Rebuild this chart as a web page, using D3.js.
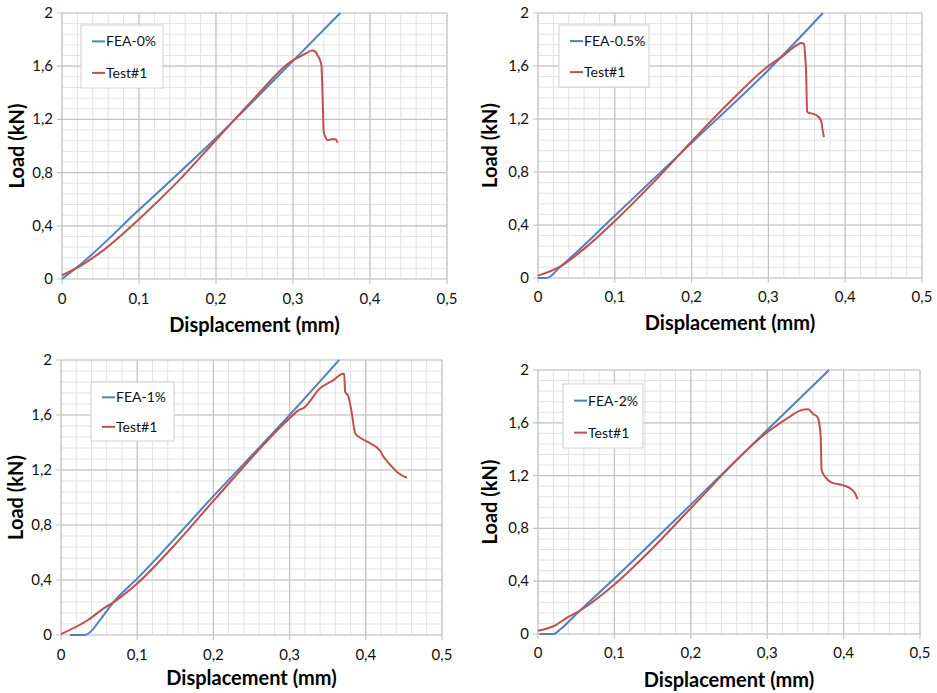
<!DOCTYPE html>
<html>
<head>
<script src="https://d3js.org/d3.v7.min.js"></script>
<style>
  body { margin: 0; background: #fff; }
  svg { display: block; font-family: Lato, "Open Sans", sans-serif; }
  .tick-label { font-size: 15px; fill: #111; }
  .axis-title { font-size: 20px; font-weight: bold; fill: #000; }
  .legend-text { font-size: 14px; fill: #111; }
</style>
</head>
<body>
<script>
// tick values
const xTicks = [0, 0.1, 0.2, 0.3, 0.4, 0.5]
const yTicks = [0, 0.4, 0.8, 1.2, 1.6, 2]

// series, [displacement mm, load kN]
const fea0 = [[0,0],[0.02,0.09],[0.1,0.52],[0.2,1.06],[0.3,1.64],[0.3614,2.0]]
const test0 = [[0,0.028],[0.02,0.085],[0.05,0.2],[0.1,0.45],[0.15,0.73],[0.2,1.045],[0.25,1.36],[0.3,1.645],[0.31,1.675],[0.318,1.70],[0.3247,1.718],[0.329,1.71],[0.332,1.68],[0.3355,1.64],[0.337,1.60],[0.338,1.45],[0.339,1.25],[0.3398,1.11],[0.342,1.07],[0.345,1.045],[0.35,1.05],[0.355,1.05],[0.358,1.025]]

const fea05 = [[0,0],[0.011,0],[0.03,0.09],[0.1,0.47],[0.2,1.02],[0.3,1.57],[0.371,2.0]]
const test05 = [[0,0.018],[0.03,0.09],[0.06,0.22],[0.1,0.43],[0.15,0.72],[0.2,1.03],[0.25,1.33],[0.3,1.6],[0.32,1.68],[0.335,1.75],[0.343,1.774],[0.3465,1.765],[0.3475,1.70],[0.349,1.57],[0.3505,1.255],[0.353,1.245],[0.358,1.24],[0.3655,1.215],[0.369,1.18],[0.3705,1.12],[0.3724,1.063]]

const fea1 = [[0.012,0],[0.031,0],[0.04,0.03],[0.05,0.1],[0.0706,0.25],[0.1,0.41],[0.2,1.01],[0.3,1.6],[0.365,2.0]]
const test1 = [[0,0.007],[0.0355,0.109],[0.0574,0.199],[0.0706,0.245],[0.1,0.375],[0.147,0.642],[0.2,0.975],[0.3,1.576],[0.312,1.636],[0.318,1.65],[0.34,1.794],[0.358,1.855],[0.3685,1.898],[0.3716,1.9],[0.3729,1.77],[0.3773,1.733],[0.3817,1.612],[0.386,1.467],[0.3926,1.435],[0.4058,1.394],[0.419,1.338],[0.4233,1.297],[0.4277,1.265],[0.4343,1.224],[0.443,1.176],[0.454,1.144]]

const fea2 = [[0.002,0],[0.0197,0],[0.03,0.04],[0.0546,0.176],[0.1,0.42],[0.2,0.98],[0.3,1.546],[0.381,2.0]]
const test2 = [[0,0.025],[0.024,0.07],[0.037,0.12],[0.0546,0.176],[0.1,0.375],[0.15,0.65],[0.2,0.953],[0.3,1.528],[0.3297,1.647],[0.3428,1.692],[0.3537,1.702],[0.3602,1.667],[0.3655,1.647],[0.368,1.60],[0.370,1.495],[0.3712,1.243],[0.3756,1.193],[0.3843,1.147],[0.3974,1.13],[0.4083,1.105],[0.4149,1.067],[0.4184,1.022]]

const feaNames = ['FEA-0%', 'FEA-0.5%', 'FEA-1%', 'FEA-2%']
const testName = 'Test#1'

const blue = '#4f81bd'
const red = '#c0504d'

const w = 937
const h = 693

const svg = d3.select('body').append('svg')
    .attr('width', w)
    .attr('height', h)

// plot boxes, legend boxes
const panels = [
    {x0: 62, x1: 447, y0: 13, y1: 279, fea: fea0, test: test0, name: feaNames[0],
     leg: {x: 81, y: 25, w: 82, h: 63}, loadX: 17, titleY: 332, tickY: 304},
    {x0: 538, x1: 922, y0: 13, y1: 278, fea: fea05, test: test05, name: feaNames[1],
     leg: {x: 559, y: 25, w: 90, h: 62}, loadX: 490, titleY: 330, tickY: 302},
    {x0: 61, x1: 442, y0: 360, y1: 635, fea: fea1, test: test1, name: feaNames[2],
     leg: {x: 91, y: 382, w: 83, h: 59}, loadX: 16, titleY: 685, tickY: 660},
    {x0: 538, x1: 920, y0: 370, y1: 634, fea: fea2, test: test2, name: feaNames[3],
     leg: {x: 563, y: 384, w: 80, h: 64}, loadX: 490, titleY: 687, tickY: 658}
]

panels.forEach(p => {
    const xScale = d3.scaleLinear().domain([0, 0.5]).range([p.x0, p.x1])
    const yScale = d3.scaleLinear().domain([0, 2]).range([p.y1, p.y0])
    const g = svg.append('g')

    // minor grid
    g.selectAll('.vminor')
        .data(d3.range(0, 0.5001, 0.02))
        .enter().append('line')
        .attr('x1', d => xScale(d)).attr('x2', d => xScale(d))
        .attr('y1', p.y0).attr('y2', p.y1)
        .attr('stroke', '#e2e2e2').attr('stroke-width', 1)
    g.selectAll('.hminor')
        .data(d3.range(0, 2.0001, 0.08))
        .enter().append('line')
        .attr('y1', d => yScale(d)).attr('y2', d => yScale(d))
        .attr('x1', p.x0).attr('x2', p.x1)
        .attr('stroke', '#e2e2e2').attr('stroke-width', 1)

    // major grid + tick marks
    g.selectAll('.vmajor')
        .data(xTicks)
        .enter().append('line')
        .attr('x1', d => xScale(d)).attr('x2', d => xScale(d))
        .attr('y1', p.y0).attr('y2', p.y1 + 5)
        .attr('stroke', '#c4c4c4').attr('stroke-width', 1.2)
    g.selectAll('.hmajor')
        .data(yTicks)
        .enter().append('line')
        .attr('y1', d => yScale(d)).attr('y2', d => yScale(d))
        .attr('x1', p.x0 - 5).attr('x2', p.x1)
        .attr('stroke', '#c4c4c4').attr('stroke-width', 1.2)

    // tick labels
    g.selectAll('.xl')
        .data(xTicks)
        .enter().append('text')
        .attr('class', 'tick-label')
        .attr('x', d => xScale(d))
        .attr('y', p.tickY)
        .attr('text-anchor', 'middle')
        .text(d => String(d).replace('.', ','))
    g.selectAll('.yl')
        .data(yTicks)
        .enter().append('text')
        .attr('class', 'tick-label')
        .attr('x', p.x0 - 9)
        .attr('y', d => yScale(d) + 5)
        .attr('text-anchor', 'end')
        .text(d => String(d).replace('.', ','))

    // axis titles
    g.append('text')
        .attr('class', 'axis-title')
        .attr('x', (p.x0 + p.x1) / 2)
        .attr('y', p.titleY)
        .attr('text-anchor', 'middle')
        .text('Displacement (mm)')
    g.append('text')
        .attr('class', 'axis-title')
        .attr('transform', 'translate(' + (p.loadX + 7) + ',' + ((p.y0 + p.y1) / 2) + ') rotate(-90)')
        .attr('text-anchor', 'middle')
        .text('Load (kN)')

    const line = d3.line()
        .x(d => xScale(d[0]))
        .y(d => yScale(d[1]))
        .curve(d3.curveMonotoneX)

    g.append('path')
        .datum(p.fea)
        .attr('d', line)
        .attr('fill', 'none')
        .attr('stroke', blue)
        .attr('stroke-width', 2)
    g.append('path')
        .datum(p.test)
        .attr('d', line)
        .attr('fill', 'none')
        .attr('stroke', red)
        .attr('stroke-width', 2)

    // legend
    const lg = g.append('g').attr('transform', 'translate(' + p.leg.x + ',' + p.leg.y + ')')
    lg.append('rect')
        .attr('width', p.leg.w).attr('height', p.leg.h)
        .attr('fill', '#fff').attr('stroke', '#d0d0d0')
    const items = [[p.name, blue], [testName, red]]
    const gap = p.leg.h / 2
    items.forEach((it, i) => {
        const cy = gap * 0.52 + i * gap
        lg.append('line')
            .attr('x1', 11).attr('x2', 24)
            .attr('y1', cy).attr('y2', cy)
            .attr('stroke', it[1]).attr('stroke-width', 2)
        lg.append('text')
            .attr('class', 'legend-text')
            .attr('x', 25)
            .attr('y', cy + 5)
            .text(it[0])
    })
})
</script>
</body>
</html>
